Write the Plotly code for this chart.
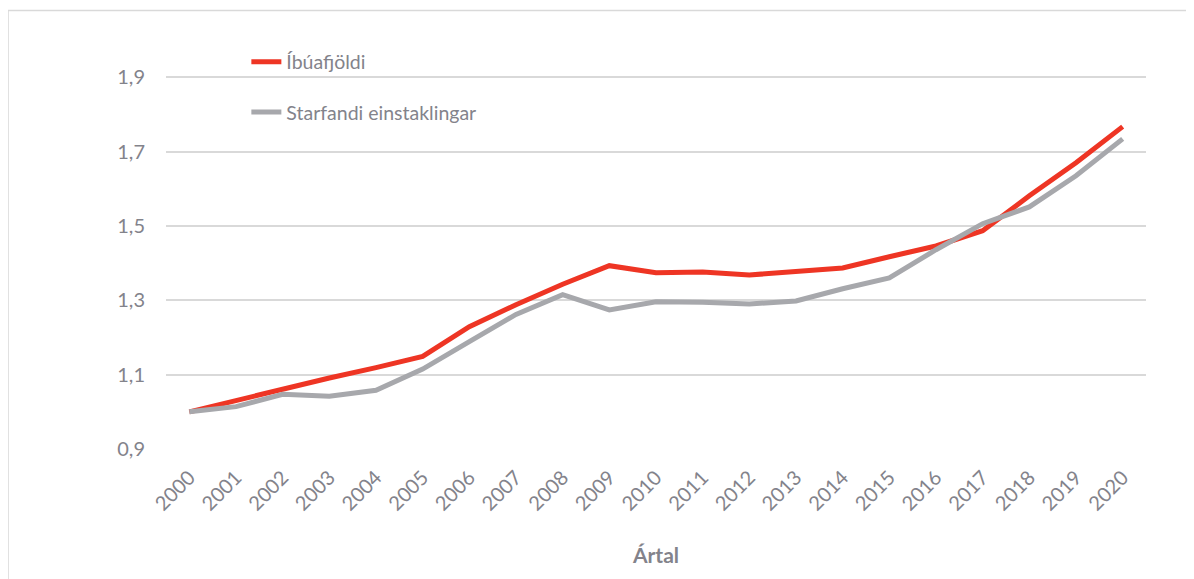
import plotly.graph_objects as go

years = [str(y) for y in range(2000, 2021)]
ibuafjoldi = [1.000, 1.030, 1.063, 1.091, 1.119, 1.149, 1.229, 1.288, 1.343, 1.393,
              1.374, 1.376, 1.368, 1.376, 1.387, 1.417, 1.446, 1.487, 1.581, 1.670, 1.767]
starfandi = [1.000, 1.014, 1.047, 1.042, 1.058, 1.115, 1.189, 1.262, 1.315, 1.274,
             1.296, 1.295, 1.290, 1.298, 1.331, 1.360, 1.436, 1.506, 1.551, 1.635, 1.734]
y_ticks = [0.9, 1.1, 1.3, 1.5, 1.7, 1.9]

FONT = "Lato"
TXT = "#83838B"

fig = go.Figure()
fig.add_trace(go.Scatter(x=years, y=ibuafjoldi, mode="lines", name="Íbúafjöldi",
                         legendgroup="a", line=dict(color="#EE3524", width=5)))
fig.add_trace(go.Scatter(x=years, y=starfandi, mode="lines", name="Starfandi einstaklingar",
                         legendgroup="b", line=dict(color="#A7A8AC", width=5)))

fig.update_layout(
    width=1194, height=579,
    margin=dict(l=158, r=56, t=32, b=138),
    paper_bgcolor="white", plot_bgcolor="white",
    separators=", ",
    font=dict(family=FONT, color=TXT, size=18),
    showlegend=True,
    legend=dict(x=0.082, y=0.994, xanchor="left", yanchor="top",
                bgcolor="rgba(0,0,0,0)", font=dict(size=19.5, color=TXT),
                tracegroupgap=22, traceorder="grouped"),
    xaxis=dict(type="category", range=[-0.5, 20.5], tickangle=-45,
               showgrid=False, showline=False, ticks="", automargin=False,
               tickfont=dict(size=20, color=TXT), ticklabelstandoff=12,
               title=dict(text="<b>Ártal</b>", font=dict(size=21, color=TXT), standoff=34)),
    yaxis=dict(range=[0.9, 2.0], tickvals=y_ticks, tickformat=".1f", automargin=False,
               showgrid=True, gridcolor="#D9D9D9", gridwidth=1.5,
               zeroline=False, showline=False, ticks="",
               tickfont=dict(size=20, color=TXT), ticklabelstandoff=20),
    shapes=[dict(type="rect", xref="paper", yref="paper",
                 x0=-0.1612, x1=1.2, y0=-0.4, y1=1.0719,
                 line=dict(color="#D9D9D9", width=1.5), layer="below")],
)

fig.write_html("out.html")
